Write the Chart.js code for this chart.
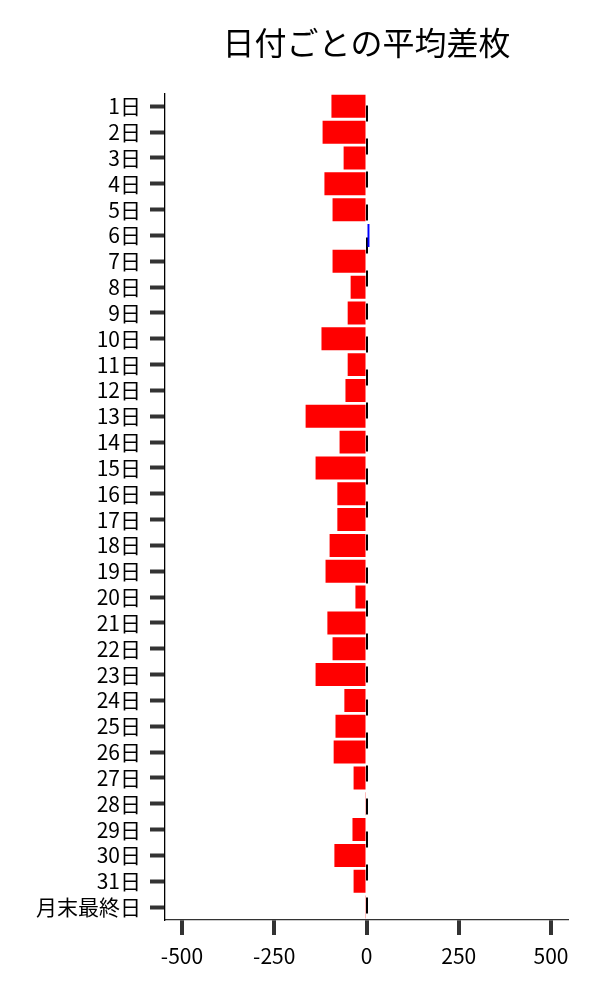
<!DOCTYPE html>
<html lang="ja">
<head>
  <meta charset="UTF-8">
  <title>日付ごとの平均差枚</title>
  <script src="https://cdn.jsdelivr.net/npm/chart.js@4/dist/chart.umd.min.js"></script>
  <style>
    html, body { margin: 0; padding: 0; background: #fff; }
    .chart-wrap { width: 600px; height: 1000px; position: relative; }
  </style>
</head>
<body>
  <div class="chart-wrap">
    <canvas id="diffChart"></canvas>
  </div>

  <script>
    // 日付ラベル（上から順）
    const days = ['1日', '2日', '3日', '4日', '5日', '6日', '7日', '8日', '9日', '10日',
      '11日', '12日', '13日', '14日', '15日', '16日', '17日', '18日', '19日', '20日',
      '21日', '22日', '23日', '24日', '25日', '26日', '27日', '28日', '29日', '30日',
      '31日', '月末最終日'];
    // 平均差枚
    const avgDiff = [-95, -119, -62, -114, -92, 8, -92, -43, -51, -122,
      -51, -57, -165, -73, -138, -79, -79, -100, -111, -30,
      -106, -92, -138, -60, -84, -89, -35, -2, -38, -87,
      -35, -2];
    // X軸の目盛り
    const xTicks = [-500, -250, 0, 250, 500];
    const xMin = -546;
    const xMax = 546;

    const font = 'Noto Sans CJK JP';
    const barColors = avgDiff.map(v => (v >= 0 ? '#0000ff' : '#ff0000'));

    const ctx = document.getElementById('diffChart').getContext('2d');
    new Chart(ctx, {
      type: 'bar',
      data: {
        labels: days,
        datasets: [{
          data: avgDiff,
          backgroundColor: barColors,
          borderWidth: 0,
          barPercentage: 0.89,
          categoryPercentage: 1.0
        }]
      },
      options: {
        indexAxis: 'y',
        responsive: true,
        maintainAspectRatio: false,
        animation: false,
        layout: { padding: { left: 0, right: 32, top: 0, bottom: 0 } },
        plugins: {
          legend: { display: false },
          tooltip: { enabled: false },
          title: {
            display: true,
            text: '日付ごとの平均差枚',
            fullSize: false,
            color: '#000',
            font: { family: font, size: 32, weight: 'normal' },
            padding: { top: 24, bottom: 31 }
          }
        },
        scales: {
          x: {
            min: xMin,
            max: xMax,
            afterBuildTicks: axis => { axis.ticks = xTicks.map(v => ({ value: v })); },
            afterFit: axis => { axis.height = 80; },
            grid: {
              color: c => (c.tick && c.tick.value === 0 ? '#000' : 'rgba(0,0,0,0)'),
              lineWidth: 2,
              tickColor: '#333',
              tickWidth: 4,
              tickLength: 15
            },
            border: { display: true, color: '#333', width: 1.3, dash: [16, 17], dashOffset: 21 },
            ticks: {
              color: '#000',
              padding: 8,
              font: { family: font, size: 21 }
            }
          },
          y: {
            afterFit: axis => { axis.width = 165; },
            grid: {
              offset: false,
              drawOnChartArea: false,
              tickColor: '#333',
              tickWidth: 4,
              tickLength: 15
            },
            border: { display: true, color: '#000', width: 1.3 },
            ticks: {
              color: '#000',
              padding: 9,
              autoSkip: false,
              font: { family: font, size: 21 }
            }
          }
        }
      }
    });
  </script>
</body>
</html>
